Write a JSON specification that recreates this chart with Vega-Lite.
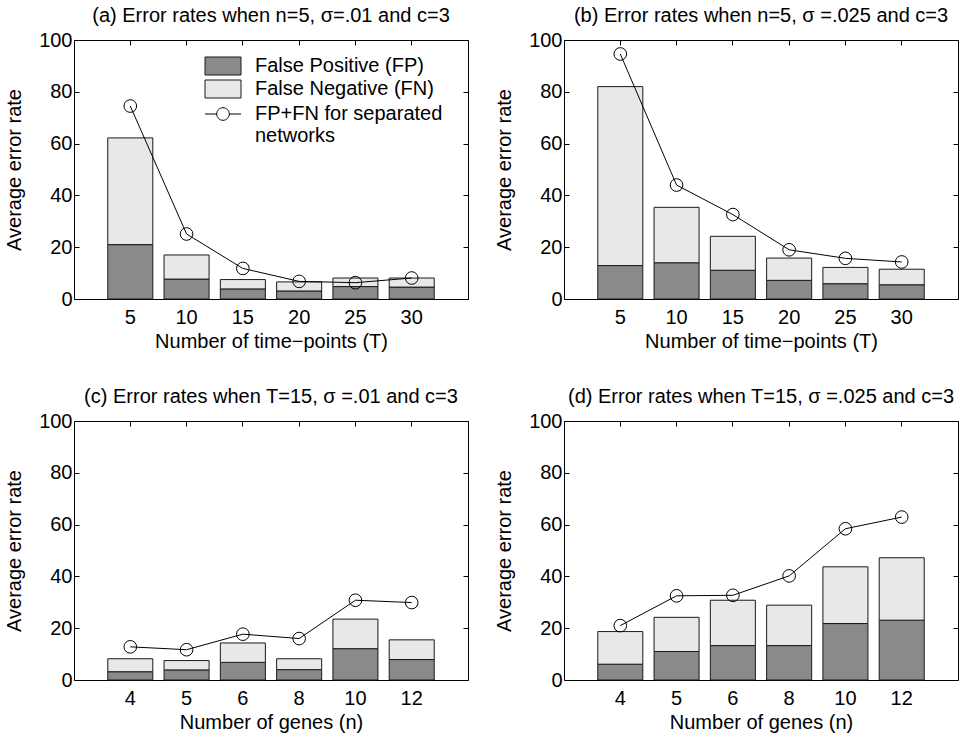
{
  "$schema": "https://vega.github.io/schema/vega-lite/v6.json",
  "background": "white",
  "padding": {"left": 4, "top": 5, "right": 5, "bottom": 5},
  "config": {
    "font": "Liberation Sans",
    "view": {"stroke": "black", "strokeWidth": 1},
    "axis": {
      "labelFont": "Liberation Sans", "labelFontSize": 20, "labelColor": "black",
      "titleFont": "Liberation Sans", "titleFontSize": 20, "titleFontWeight": "normal", "titleColor": "black",
      "domain": false, "tickColor": "black", "tickSize": -5, "grid": false, "labelAngle": 0
    },
    "axisX": {"labelPadding": 13, "titlePadding": 4},
    "axisY": {"labelPadding": 7, "titlePadding": 14},
    "title": {"font": "Liberation Sans", "fontSize": 20, "fontWeight": "normal", "color": "black", "offset": 4, "frame": "group"}
  },
  "datasets": {
    "bars": [
      {"p": "a", "x": 5, "type": "False Positive (FP)", "v": 21.0},
      {"p": "a", "x": 5, "type": "False Negative (FN)", "v": 41.2},
      {"p": "a", "x": 10, "type": "False Positive (FP)", "v": 7.7},
      {"p": "a", "x": 10, "type": "False Negative (FN)", "v": 9.3},
      {"p": "a", "x": 15, "type": "False Positive (FP)", "v": 3.9},
      {"p": "a", "x": 15, "type": "False Negative (FN)", "v": 3.6},
      {"p": "a", "x": 20, "type": "False Positive (FP)", "v": 3.1},
      {"p": "a", "x": 20, "type": "False Negative (FN)", "v": 3.5},
      {"p": "a", "x": 25, "type": "False Positive (FP)", "v": 4.8},
      {"p": "a", "x": 25, "type": "False Negative (FN)", "v": 3.3},
      {"p": "a", "x": 30, "type": "False Positive (FP)", "v": 4.6},
      {"p": "a", "x": 30, "type": "False Negative (FN)", "v": 3.5},
      {"p": "b", "x": 5, "type": "False Positive (FP)", "v": 12.9},
      {"p": "b", "x": 5, "type": "False Negative (FN)", "v": 69.1},
      {"p": "b", "x": 10, "type": "False Positive (FP)", "v": 14.0},
      {"p": "b", "x": 10, "type": "False Negative (FN)", "v": 21.4},
      {"p": "b", "x": 15, "type": "False Positive (FP)", "v": 11.1},
      {"p": "b", "x": 15, "type": "False Negative (FN)", "v": 13.1},
      {"p": "b", "x": 20, "type": "False Positive (FP)", "v": 7.2},
      {"p": "b", "x": 20, "type": "False Negative (FN)", "v": 8.6},
      {"p": "b", "x": 25, "type": "False Positive (FP)", "v": 5.9},
      {"p": "b", "x": 25, "type": "False Negative (FN)", "v": 6.3},
      {"p": "b", "x": 30, "type": "False Positive (FP)", "v": 5.5},
      {"p": "b", "x": 30, "type": "False Negative (FN)", "v": 6.0},
      {"p": "c", "x": 4, "type": "False Positive (FP)", "v": 3.2},
      {"p": "c", "x": 4, "type": "False Negative (FN)", "v": 5.0},
      {"p": "c", "x": 5, "type": "False Positive (FP)", "v": 3.9},
      {"p": "c", "x": 5, "type": "False Negative (FN)", "v": 3.6},
      {"p": "c", "x": 6, "type": "False Positive (FP)", "v": 6.8},
      {"p": "c", "x": 6, "type": "False Negative (FN)", "v": 7.5},
      {"p": "c", "x": 8, "type": "False Positive (FP)", "v": 4.0},
      {"p": "c", "x": 8, "type": "False Negative (FN)", "v": 4.2},
      {"p": "c", "x": 10, "type": "False Positive (FP)", "v": 12.1},
      {"p": "c", "x": 10, "type": "False Negative (FN)", "v": 11.4},
      {"p": "c", "x": 12, "type": "False Positive (FP)", "v": 7.9},
      {"p": "c", "x": 12, "type": "False Negative (FN)", "v": 7.6},
      {"p": "d", "x": 4, "type": "False Positive (FP)", "v": 6.1},
      {"p": "d", "x": 4, "type": "False Negative (FN)", "v": 12.6},
      {"p": "d", "x": 5, "type": "False Positive (FP)", "v": 11.0},
      {"p": "d", "x": 5, "type": "False Negative (FN)", "v": 13.2},
      {"p": "d", "x": 6, "type": "False Positive (FP)", "v": 13.3},
      {"p": "d", "x": 6, "type": "False Negative (FN)", "v": 17.5},
      {"p": "d", "x": 8, "type": "False Positive (FP)", "v": 13.3},
      {"p": "d", "x": 8, "type": "False Negative (FN)", "v": 15.6},
      {"p": "d", "x": 10, "type": "False Positive (FP)", "v": 21.8},
      {"p": "d", "x": 10, "type": "False Negative (FN)", "v": 21.9},
      {"p": "d", "x": 12, "type": "False Positive (FP)", "v": 23.1},
      {"p": "d", "x": 12, "type": "False Negative (FN)", "v": 24.1}
    ],
    "pts": [
      {"p": "a", "x": 5, "v": 74.5}, {"p": "a", "x": 10, "v": 25.1}, {"p": "a", "x": 15, "v": 11.8},
      {"p": "a", "x": 20, "v": 6.8}, {"p": "a", "x": 25, "v": 6.3}, {"p": "a", "x": 30, "v": 8.1},
      {"p": "b", "x": 5, "v": 94.6}, {"p": "b", "x": 10, "v": 44.0}, {"p": "b", "x": 15, "v": 32.6},
      {"p": "b", "x": 20, "v": 19.0}, {"p": "b", "x": 25, "v": 15.7}, {"p": "b", "x": 30, "v": 14.3},
      {"p": "c", "x": 4, "v": 12.8}, {"p": "c", "x": 5, "v": 11.7}, {"p": "c", "x": 6, "v": 17.7},
      {"p": "c", "x": 8, "v": 16.0}, {"p": "c", "x": 10, "v": 30.8}, {"p": "c", "x": 12, "v": 29.9},
      {"p": "d", "x": 4, "v": 21.0}, {"p": "d", "x": 5, "v": 32.5}, {"p": "d", "x": 6, "v": 32.7},
      {"p": "d", "x": 8, "v": 40.2}, {"p": "d", "x": 10, "v": 58.4}, {"p": "d", "x": 12, "v": 62.9}
    ]
  },
  "bounds": "flush",
  "columns": 2,
  "spacing": {"row": 122, "column": 96},
  "resolve": {"legend": {"fill": "independent", "stroke": "independent"}},
  "concat": [
    {
      "width": 394, "height": 259,
      "title": "(a) Error rates when n=5, σ=.01 and c=3",
      "resolve": {"axis": {"x": "independent", "y": "independent"}},
      "layer": [
        {
          "data": {"name": "bars"}, "transform": [{"filter": "datum.p == 'a'"}],
          "mark": {"type": "bar", "stroke": "#1a1a1a", "strokeWidth": 1},
          "encoding": {
            "x": {"field": "x", "type": "ordinal", "scale": {"paddingInner": 0.2, "paddingOuter": 0.6}, "axis": {"title": "Number of time−points (T)", "orient": "bottom"}},
            "y": {"field": "v", "type": "quantitative", "stack": "zero", "scale": {"domain": [0, 100]}, "axis": {"title": "Average error rate", "values": [0, 20, 40, 60, 80, 100]}},
            "fill": {"field": "type", "type": "nominal",
              "scale": {"domain": ["False Positive (FP)", "False Negative (FN)"], "range": ["#8a8a8a", "#e8e8e8"]},
              "legend": {
                "title": null, "orient": "none", "legendX": 139, "legendY": 16, "padding": 0,
                "symbolType": "M-2,-1H2V1H-2Z", "symbolSize": 324, "labelOffset": 22, "rowPadding": 1,
                "symbolStrokeColor": "#1a1a1a", "symbolStrokeWidth": 1, "symbolOpacity": 1,
                "labelFont": "Liberation Sans", "labelFontSize": 20, "labelColor": "black",
                "labelLimit": 400
              }},
            "order": {"field": "type", "sort": "descending"}
          }
        },
        {
          "data": {"name": "pts"}, "transform": [{"filter": "datum.p == 'a'"}],
          "mark": {"type": "line", "strokeWidth": 1},
          "encoding": {"x": {"field": "x", "type": "ordinal", "axis": null}, "y": {"field": "v", "type": "quantitative", "axis": null},
            "stroke": {"datum": "FP+FN for separated networks", "type": "nominal", "scale": {"range": ["black"]},
              "legend": {
                "title": null, "orient": "none", "legendX": 139, "legendY": 64, "padding": 0,
                "symbolType": "M-2,0H-0.7M0.7,0H2M-0.7,0A0.7,0.7 0 1,0 0.7,0A0.7,0.7 0 1,0 -0.7,0",
                "symbolSize": 324, "labelOffset": 22, "symbolStrokeWidth": 1, "symbolFillColor": "transparent", "symbolOpacity": 1,
                "labelFont": "Liberation Sans", "labelFontSize": 20, "labelColor": "black", "labelLimit": 400,
                "labelExpr": "['FP+FN for separated', 'networks']"
              }}}
        },
        {
          "data": {"name": "pts"}, "transform": [{"filter": "datum.p == 'a'"}],
          "mark": {"type": "point", "filled": false, "stroke": "black", "strokeWidth": 1, "size": 160, "opacity": 1},
          "encoding": {"x": {"field": "x", "type": "ordinal", "axis": null}, "y": {"field": "v", "type": "quantitative", "axis": null}}
        },
        {
          "data": {"name": "pts"}, "transform": [{"filter": "datum.p == 'a'"}],
          "mark": {"type": "point", "opacity": 0},
          "encoding": {"x": {"field": "x", "type": "ordinal", "axis": {"orient": "top", "labels": false, "title": null}},
            "y": {"field": "v", "type": "quantitative", "axis": {"orient": "right", "labels": false, "title": null, "values": [0, 20, 40, 60, 80, 100]}}}
        }
      ]
    },
    {
      "width": 394, "height": 259,
      "title": "(b) Error rates when n=5, σ =.025 and c=3",
      "resolve": {"axis": {"x": "independent", "y": "independent"}},
      "layer": [
        {
          "data": {"name": "bars"}, "transform": [{"filter": "datum.p == 'b'"}],
          "mark": {"type": "bar", "stroke": "#1a1a1a", "strokeWidth": 1},
          "encoding": {
            "x": {"field": "x", "type": "ordinal", "scale": {"paddingInner": 0.2, "paddingOuter": 0.6}, "axis": {"title": "Number of time−points (T)", "orient": "bottom"}},
            "y": {"field": "v", "type": "quantitative", "stack": "zero", "scale": {"domain": [0, 100]}, "axis": {"title": "Average error rate", "values": [0, 20, 40, 60, 80, 100]}},
            "fill": {"field": "type", "type": "nominal",
              "scale": {"domain": ["False Positive (FP)", "False Negative (FN)"], "range": ["#8a8a8a", "#e8e8e8"]},
              "legend": null},
            "order": {"field": "type", "sort": "descending"}
          }
        },
        {
          "data": {"name": "pts"}, "transform": [{"filter": "datum.p == 'b'"}],
          "mark": {"type": "line", "stroke": "black", "strokeWidth": 1},
          "encoding": {"x": {"field": "x", "type": "ordinal", "axis": null}, "y": {"field": "v", "type": "quantitative", "axis": null}}
        },
        {
          "data": {"name": "pts"}, "transform": [{"filter": "datum.p == 'b'"}],
          "mark": {"type": "point", "filled": false, "stroke": "black", "strokeWidth": 1, "size": 160, "opacity": 1},
          "encoding": {"x": {"field": "x", "type": "ordinal", "axis": null}, "y": {"field": "v", "type": "quantitative", "axis": null}}
        },
        {
          "data": {"name": "pts"}, "transform": [{"filter": "datum.p == 'b'"}],
          "mark": {"type": "point", "opacity": 0},
          "encoding": {"x": {"field": "x", "type": "ordinal", "axis": {"orient": "top", "labels": false, "title": null}},
            "y": {"field": "v", "type": "quantitative", "axis": {"orient": "right", "labels": false, "title": null, "values": [0, 20, 40, 60, 80, 100]}}}
        }
      ]
    },
    {
      "width": 394, "height": 259,
      "title": "(c) Error rates when T=15, σ =.01 and c=3",
      "resolve": {"axis": {"x": "independent", "y": "independent"}},
      "layer": [
        {
          "data": {"name": "bars"}, "transform": [{"filter": "datum.p == 'c'"}],
          "mark": {"type": "bar", "stroke": "#1a1a1a", "strokeWidth": 1},
          "encoding": {
            "x": {"field": "x", "type": "ordinal", "scale": {"paddingInner": 0.2, "paddingOuter": 0.6}, "axis": {"title": "Number of genes (n)", "orient": "bottom"}},
            "y": {"field": "v", "type": "quantitative", "stack": "zero", "scale": {"domain": [0, 100]}, "axis": {"title": "Average error rate", "values": [0, 20, 40, 60, 80, 100]}},
            "fill": {"field": "type", "type": "nominal",
              "scale": {"domain": ["False Positive (FP)", "False Negative (FN)"], "range": ["#8a8a8a", "#e8e8e8"]},
              "legend": null},
            "order": {"field": "type", "sort": "descending"}
          }
        },
        {
          "data": {"name": "pts"}, "transform": [{"filter": "datum.p == 'c'"}],
          "mark": {"type": "line", "stroke": "black", "strokeWidth": 1},
          "encoding": {"x": {"field": "x", "type": "ordinal", "axis": null}, "y": {"field": "v", "type": "quantitative", "axis": null}}
        },
        {
          "data": {"name": "pts"}, "transform": [{"filter": "datum.p == 'c'"}],
          "mark": {"type": "point", "filled": false, "stroke": "black", "strokeWidth": 1, "size": 160, "opacity": 1},
          "encoding": {"x": {"field": "x", "type": "ordinal", "axis": null}, "y": {"field": "v", "type": "quantitative", "axis": null}}
        },
        {
          "data": {"name": "pts"}, "transform": [{"filter": "datum.p == 'c'"}],
          "mark": {"type": "point", "opacity": 0},
          "encoding": {"x": {"field": "x", "type": "ordinal", "axis": {"orient": "top", "labels": false, "title": null}},
            "y": {"field": "v", "type": "quantitative", "axis": {"orient": "right", "labels": false, "title": null, "values": [0, 20, 40, 60, 80, 100]}}}
        }
      ]
    },
    {
      "width": 394, "height": 259,
      "title": "(d) Error rates when T=15, σ =.025 and c=3",
      "resolve": {"axis": {"x": "independent", "y": "independent"}},
      "layer": [
        {
          "data": {"name": "bars"}, "transform": [{"filter": "datum.p == 'd'"}],
          "mark": {"type": "bar", "stroke": "#1a1a1a", "strokeWidth": 1},
          "encoding": {
            "x": {"field": "x", "type": "ordinal", "scale": {"paddingInner": 0.2, "paddingOuter": 0.6}, "axis": {"title": "Number of genes (n)", "orient": "bottom"}},
            "y": {"field": "v", "type": "quantitative", "stack": "zero", "scale": {"domain": [0, 100]}, "axis": {"title": "Average error rate", "values": [0, 20, 40, 60, 80, 100]}},
            "fill": {"field": "type", "type": "nominal",
              "scale": {"domain": ["False Positive (FP)", "False Negative (FN)"], "range": ["#8a8a8a", "#e8e8e8"]},
              "legend": null},
            "order": {"field": "type", "sort": "descending"}
          }
        },
        {
          "data": {"name": "pts"}, "transform": [{"filter": "datum.p == 'd'"}],
          "mark": {"type": "line", "stroke": "black", "strokeWidth": 1},
          "encoding": {"x": {"field": "x", "type": "ordinal", "axis": null}, "y": {"field": "v", "type": "quantitative", "axis": null}}
        },
        {
          "data": {"name": "pts"}, "transform": [{"filter": "datum.p == 'd'"}],
          "mark": {"type": "point", "filled": false, "stroke": "black", "strokeWidth": 1, "size": 160, "opacity": 1},
          "encoding": {"x": {"field": "x", "type": "ordinal", "axis": null}, "y": {"field": "v", "type": "quantitative", "axis": null}}
        },
        {
          "data": {"name": "pts"}, "transform": [{"filter": "datum.p == 'd'"}],
          "mark": {"type": "point", "opacity": 0},
          "encoding": {"x": {"field": "x", "type": "ordinal", "axis": {"orient": "top", "labels": false, "title": null}},
            "y": {"field": "v", "type": "quantitative", "axis": {"orient": "right", "labels": false, "title": null, "values": [0, 20, 40, 60, 80, 100]}}}
        }
      ]
    }
  ]
}
